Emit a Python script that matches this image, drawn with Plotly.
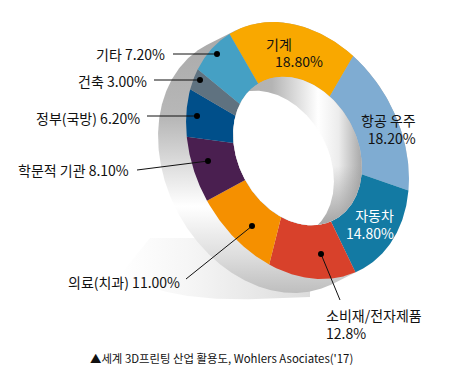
import numpy as np
import plotly.graph_objects as go

categories = ["기계", "항공 우주", "자동차", "소비재/전자제품", "의료(치과)", "학문적 기관", "정부(국방)", "건축", "기타"]
values = [18.8, 18.2, 14.8, 12.8, 11.0, 8.1, 6.2, 3.0, 7.2]
colors = ["#f9a800", "#7facd2", "#137aa3", "#d8412b", "#f59000", "#4a1f50", "#004f8a", "#5f7280", "#45a0c4"]

# Projection of the tilted ring (page pixels)
CENTER = np.array([297.5, 150.5])
A, B = 135.0, 103.5
TILT = np.radians(61.5)
START = 177.7
HOLE = 0.578
SHIFT = np.array([-28.0, 14.0])
INNER_CENTER = np.array([297.5, 151.0])

ux = np.array([np.cos(TILT), np.sin(TILT)])
uy = np.array([-np.sin(TILT), np.cos(TILT)])
M = np.column_stack([ux * A, uy * B])


def ring(th, r=1.0, c=CENTER):
    pts = np.column_stack([np.cos(th), np.sin(th)])
    return c + r * pts @ M.T


def ellipse(r, c):
    return ring(np.radians(np.linspace(0, 360, 361)), r, c)


def hull(r, c):
    s = np.linalg.solve(M * r, SHIFT)
    th = np.radians(np.linspace(0, 360, 721))
    p = ring(th, r, c)
    mask = np.cos(th) * s[0] + np.sin(th) * s[1] > 0
    p[mask] += SHIFT
    return p


def ray(phi, o, r, c):
    d = np.array([np.cos(phi), np.sin(phi)])
    Mi = np.linalg.inv(M * r)
    a_ = Mi @ d
    b_ = Mi @ (o - c)
    qa, qb, qc = a_ @ a_, 2 * a_ @ b_, b_ @ b_ - 1
    return (-qb + np.sqrt(qb * qb - 4 * qa * qc)) / (2 * qa)


fig = go.Figure()


def poly(p, color=None, grad=None):
    kw = dict(fillgradient=grad) if grad else dict(fillcolor=color)
    fig.add_trace(go.Scatter(x=p[:, 0], y=p[:, 1], mode="lines", fill="toself",
                             line=dict(width=0), hoverinfo="skip", showlegend=False, **kw))


# floor shadow
sx = np.linspace(0, 1, 60)
top = np.column_stack([150 + 160 * sx, 238 + 0 * sx])
bot = np.column_stack([310 - 190 * sx, 297 + 3 * np.sin(sx * np.pi) - 22 * sx ** 4])
poly(np.vstack([top, bot]), grad=dict(type="horizontal", colorscale=[[0, "#ffffff"], [0.35, "#f6f6f6"], [0.7, "#e8e8e8"], [1, "#dcdcdc"]]))

# outer wall
poly(hull(1.0, CENTER), grad=dict(type="vertical", colorscale=[
    [0, "#bebebe"], [0.13, "#dcdcdc"], [0.32, "#ffffff"], [0.64, "#b8b8b8"], [1, "#a8a8a8"]]))

# coloured ring, from the values
edges = np.cumsum([0] + values) / sum(values) * 360 + START
for i, name in enumerate(categories):
    th = np.radians(np.linspace(edges[i], edges[i + 1], 80))
    p = np.vstack([ring(th), ring(th[::-1], HOLE, INNER_CENTER)])
    fig.add_trace(go.Scatter(x=p[:, 0], y=p[:, 1], mode="lines", fill="toself", name=name,
                             fillcolor=colors[i], line=dict(width=0), showlegend=False,
                             hovertemplate=f"{name} {values[i]}%<extra></extra>"))

# wall seen through the hole
poly(ellipse(HOLE, INNER_CENTER), grad=dict(type="horizontal", colorscale=[
    [0, "#b0b0b0"], [0.3, "#b4b4b4"], [0.66, "#ffffff"], [0.82, "#ececec"], [1, "#a8a8a8"]]))
poly(ellipse(HOLE, INNER_CENTER), grad=dict(type="vertical", colorscale=[
    [0, "rgba(150,150,150,0.85)"], [0.4, "rgba(150,150,150,0)"], [1, "rgba(150,150,150,0)"]]))

# white opening
o = INNER_CENTER + SHIFT / 2
phis = np.radians(np.linspace(0, 360, 721))
rad = [min(ray(ph, o, HOLE, INNER_CENTER), ray(ph, o, HOLE, INNER_CENTER + SHIFT)) for ph in phis]
poly(o + np.column_stack([np.cos(phis), np.sin(phis)]) * np.array(rad)[:, None], color="#ffffff")

# leaders
leader_start = [(173, 54), (154, 80), (147, 116), (137, 170), (186, 279), (340, 300)]
leader_dot = [(217, 54), (200, 80), (197, 116), (208, 161), (252, 226), (321, 254)]
for s, d in zip(leader_start, leader_dot):
    fig.add_trace(go.Scatter(x=[s[0], d[0]], y=[s[1], d[1]], mode="lines", line=dict(color="#111111", width=1),
                             hoverinfo="skip", showlegend=False))
fig.add_trace(go.Scatter(x=[d[0] for d in leader_dot], y=[d[1] for d in leader_dot], mode="markers",
                         marker=dict(color="#000000", size=6), hoverinfo="skip", showlegend=False))

FONT = "Noto Sans CJK KR"
labels = [
    ("기계", 279, 44, "center", "#111111"), ("18.80%", 299, 61, "center", "#111111"),
    ("항공 우주<br>18.20%", 417, 129, "right", "#111111"),
    ("자동차<br>14.80%", 395, 224, "right", "#ffffff"),
    ("소비재/전자제품<br>12.8%", 325, 324, "left", "#111111"),
    ("기타 7.20%", 166, 54, "right", "#111111"), ("건축 3.00%", 148, 81, "right", "#111111"),
    ("정부(국방) 6.20%", 141, 118, "right", "#111111"), ("학문적 기관 8.10%", 130, 170, "right", "#111111"),
    ("의료(치과) 11.00%", 181, 282, "right", "#111111"),
]
for t, x, y, al, col in labels:
    fig.add_annotation(x=x, y=y, text=t, showarrow=False, xanchor=al, yanchor="middle", align=al,
                       borderpad=0, font=dict(family=FONT, size=14, color=col))
fig.add_annotation(x=88, y=358, text="▲세계 3D프린팅 산업 활용도, Wohlers Asociates('17)", showarrow=False,
                   xanchor="left", yanchor="middle", font=dict(family=FONT, size=11.4, color="#111111"))

fig.update_layout(width=463, height=378, margin=dict(l=0, r=0, t=0, b=0), paper_bgcolor="#ffffff",
                  plot_bgcolor="#ffffff", showlegend=False,
                  xaxis=dict(range=[0, 463], visible=False, fixedrange=True),
                  yaxis=dict(range=[378, 0], visible=False, fixedrange=True))
fig.write_html("out.html", config=dict(displayModeBar=False),
               post_script="document.body.style.margin='0';")
